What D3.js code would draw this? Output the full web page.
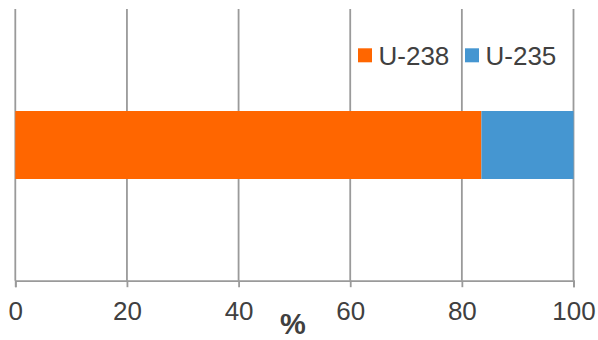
<!DOCTYPE html>
<html>
<head>
<meta charset="utf-8">
<script src="https://cdn.jsdelivr.net/npm/d3@7"></script>
<style>
  html, body { margin: 0; padding: 0; background: #fff; }
  svg { display: block; font-family: Arial, "Liberation Sans", sans-serif; }
</style>
</head>
<body>
<svg id="chart" width="598" height="340"></svg>
<script>
// Isotope composition, in percent
const isotopes = ["U-238", "U-235"];
const shares = [83.5, 16.5];
const colors = ["#FF6600", "#4596D1"];
const tickValues = [0, 20, 40, 60, 80, 100];
const axisTitle = "%";

(function draw() {
  const svg = d3.select("#chart");
  const m = { left: 15.3, right: 573.5, top: 9, bottom: 280.7 };

  const x = d3.scaleLinear().domain([0, 100]).range([m.left, m.right]);
  // single band for the one stacked bar
  const y = d3.scaleBand().domain(["bar"]).range([111, 179]).padding(0);

  const grid = "#9a9a9a";

  // Vertical gridlines
  svg.append("g").selectAll("line")
    .data(tickValues)
    .join("line")
    .attr("x1", d => x(d)).attr("x2", d => x(d))
    .attr("y1", m.top).attr("y2", m.bottom)
    .attr("stroke", grid).attr("stroke-width", 1.8);

  // Stacked bar segments
  const stacked = shares.map((v, i) => ({
    key: isotopes[i],
    x0: d3.sum(shares.slice(0, i)),
    x1: d3.sum(shares.slice(0, i + 1)),
    color: colors[i]
  }));
  svg.append("g").selectAll("rect")
    .data(stacked)
    .join("rect")
    .attr("x", d => x(d.x0))
    .attr("width", d => x(d.x1) - x(d.x0))
    .attr("y", y("bar"))
    .attr("height", y.bandwidth())
    .attr("fill", d => d.color);

  // Bottom axis
  const axis = d3.axisBottom(x).tickValues(tickValues).tickSize(6.5).tickPadding(14);
  const gAxis = svg.append("g").attr("transform", `translate(0,${m.bottom})`).call(axis);
  gAxis.select(".domain").attr("stroke", grid).attr("stroke-width", 1.8);
  gAxis.selectAll(".tick line").attr("stroke", grid).attr("stroke-width", 1.8);
  gAxis.selectAll(".tick text")
    .attr("fill", "#404040")
    .style("font-size", "26px")
    .style("font-family", "Arial, 'Liberation Sans', sans-serif");

  // Axis title
  svg.append("text")
    .attr("x", 293).attr("y", 333.5)
    .attr("text-anchor", "middle")
    .attr("fill", "#404040")
    .style("font-size", "29px").style("font-weight", "bold")
    .text(axisTitle);

  // Legend
  const legendX = [358, 465];
  const legend = svg.append("g").selectAll("g")
    .data(isotopes)
    .join("g")
    .attr("transform", (d, i) => `translate(${legendX[i]},0)`);
  legend.append("rect")
    .attr("x", 0).attr("y", 48.3).attr("width", 14).attr("height", 14)
    .attr("fill", (d, i) => colors[i]);
  legend.append("text")
    .attr("x", 20.5).attr("y", 64.5)
    .attr("fill", "#404040")
    .style("font-size", "26px")
    .text(d => d);
})();
</script>
</body>
</html>
